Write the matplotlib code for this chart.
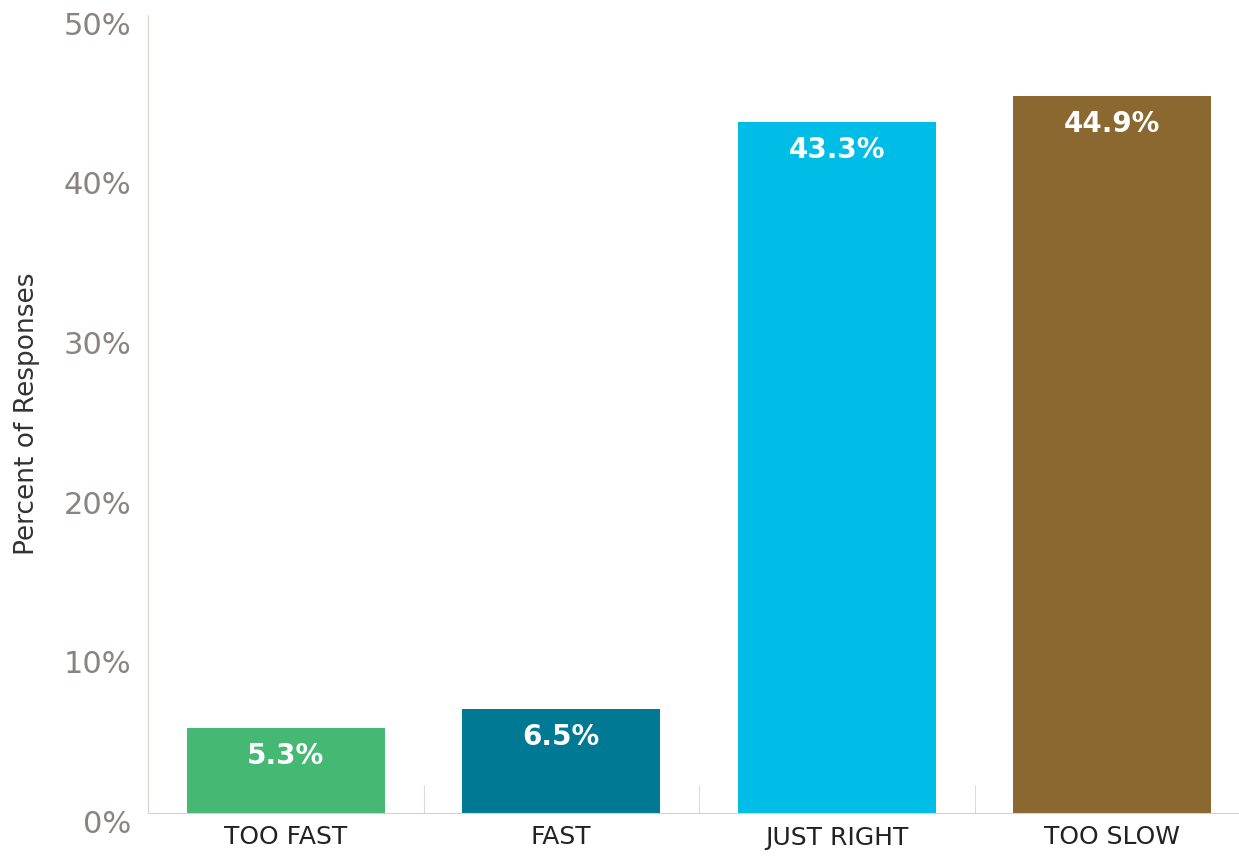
import matplotlib.pyplot as plt
import matplotlib.transforms as mtransforms

categories = ["TOO FAST", "FAST", "JUST RIGHT", "TOO SLOW"]
values = [5.3, 6.5, 43.3, 44.9]
colors = ["#45b874", "#007a94", "#00bde8", "#8a6830"]
yticks = [0, 10, 20, 30, 40, 50]

fig = plt.figure(figsize=(12.39, 8.58), dpi=100)
ax = fig.add_axes([148 / 1239, 45 / 858, 1 - 148 / 1239, 798 / 858])

x = range(len(categories))
bars = ax.bar(x, values, width=0.72, color=colors)

for xi, v in zip(x, values):
    ax.annotate(f"{v}%", (xi, v), xytext=(0, -10), textcoords="offset points",
                ha="center", va="top", color="white", fontsize=20, fontweight="bold")

ax.set_xlim(-0.5, 3.46)
ax.set_ylim(0, 50)
ax.set_yticks(yticks)
ax.set_yticklabels([f"{t}%" for t in yticks], color="#8c8282", fontsize=22)
ax.set_xticks(list(x))
ax.set_xticklabels(categories, fontsize=18, color="#222222")
ax.tick_params(axis="both", length=0, pad=9)
ax.tick_params(axis="y", pad=12)

# y tick labels sit a little below their values in the original
shift = mtransforms.ScaledTranslation(0, -6 / 72, fig.dpi_scale_trans)
for lab in ax.get_yticklabels():
    lab.set_transform(lab.get_transform() + shift)

# small category separators on the baseline
ax.set_xticks([0.5, 1.5, 2.5], minor=True)
ax.tick_params(axis="x", which="minor", direction="in", length=20, color="#d8d0cc")

ax.set_ylabel("Percent of Responses", fontsize=19, color="#333333", labelpad=17)

for s in ["top", "right"]:
    ax.spines[s].set_visible(False)
ax.spines["left"].set_color("#d8d0cc")
ax.spines["bottom"].set_color("#d8d0cc")

fig.savefig("out.png", dpi=100)
